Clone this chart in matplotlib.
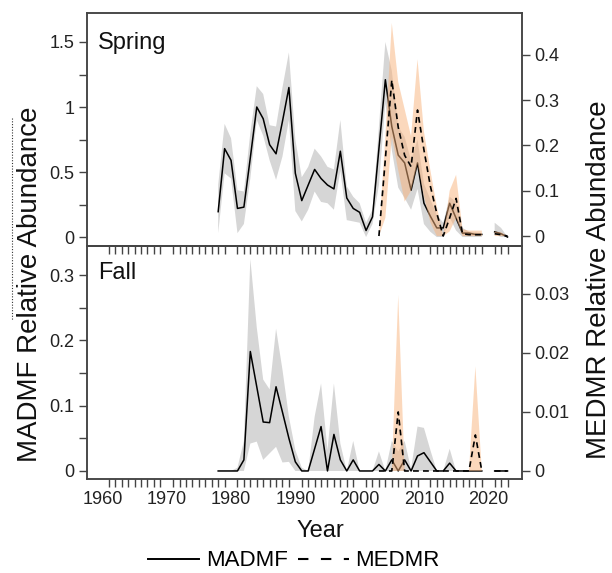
import numpy as np
import matplotlib
matplotlib.use("Agg")
import matplotlib.pyplot as plt
from matplotlib.lines import Line2D
from matplotlib.ticker import FixedLocator

plt.rcParams['font.family'] = ['Liberation Sans', 'DejaVu Sans']

nan = np.nan
years = np.arange(1978, 2024)
years_me = np.arange(2003, 2024)

# Spring MADMF (left axis)
spring_madmf = [0.195, 0.68, 0.59, 0.22, 0.23, 0.61, 1.00, 0.91, 0.71, 0.64,
                0.89, 1.15, 0.49, 0.28, 0.40, 0.52, 0.45, 0.40, 0.37, 0.66,
                0.30, 0.22, 0.19, 0.05, 0.155, 0.68, 1.21, 0.85, 0.63, 0.57,
                0.36, 0.57, 0.26, 0.16, 0.07, 0.07, 0.26, 0.145, 0.03, 0.03,
                0.02, 0.02, nan, 0.04, 0.025, 0.0]
spring_madmf_lo = [0.03, 0.49, 0.45, 0.03, 0.10, 0.45, 0.90, 0.78, 0.59, 0.44,
                   0.62, 0.90, 0.20, 0.12, 0.21, 0.35, 0.27, 0.26, 0.21, 0.51,
                   0.13, 0.12, 0.11, 0.0, 0.10, 0.40, 1.03, 0.67, 0.38, 0.30,
                   0.21, 0.37, 0.10, 0.04, 0.0, 0.0, 0.15, 0.05, 0.0, 0.0,
                   0.0, 0.0, nan, 0.02, 0.0, 0.0]
spring_madmf_hi = [0.40, 0.87, 0.76, 0.36, 0.35, 0.80, 1.16, 1.10, 0.86, 0.85,
                   1.15, 1.42, 0.75, 0.46, 0.54, 0.68, 0.62, 0.54, 0.52, 0.90,
                   0.39, 0.31, 0.26, 0.11, 0.21, 0.85, 1.50, 1.28, 0.85, 0.77,
                   0.59, 0.75, 0.41, 0.29, 0.17, 0.11, 0.31, 0.27, 0.07, 0.04,
                   0.035, 0.03, nan, 0.11, 0.07, 0.0]

# Spring MEDMR (right axis)
spring_medmr = [0.0, 0.17, 0.344, 0.24, 0.178, 0.153, 0.278, 0.19, 0.11, 0.05,
                0.0, 0.04, 0.083, 0.005, 0.003, 0.003, 0.003, nan, 0.005, 0.003, 0.0]
spring_medmr_lo = [0.0, 0.04, 0.22, 0.145, 0.076, 0.10, 0.16, 0.087, 0.03, 0.0,
                   0.0, 0.01, 0.04, 0.0, 0.0, 0.0, 0.0, nan, 0.0, 0.0, 0.0]
spring_medmr_hi = [0.0, 0.22, 0.47, 0.34, 0.28, 0.22, 0.39, 0.23, 0.145, 0.065,
                   0.0, 0.10, 0.135, 0.015, 0.012, 0.012, 0.012, nan, 0.01, 0.008, 0.0]

# Fall MADMF (left axis)
fall_madmf = [0.0, 0.0, 0.0, 0.0, 0.017, 0.183, 0.129, 0.075, 0.074, 0.129,
              0.09, 0.05, 0.014, 0.0, 0.0, 0.034, 0.068, 0.0, 0.056, 0.017,
              0.0, 0.017, 0.0, 0.0, 0.0, 0.01, 0.0, 0.017, 0.0, 0.017,
              0.0, 0.023, 0.028, 0.014, 0.0, 0.0, 0.012, 0.0, 0.0, 0.0,
              0.0, 0.0, nan, 0.0, 0.0, 0.0]
fall_madmf_lo = [0.0, 0.0, 0.0, 0.0, 0.0, 0.042, 0.045, 0.017, 0.027, 0.037,
                 0.013, 0.014, 0.0, 0.0, 0.0, 0.0, 0.0, 0.0, 0.0, 0.0,
                 0.0, 0.0, 0.0, 0.0, 0.0, 0.0, 0.0, 0.0, 0.0, 0.0,
                 0.0, 0.0, 0.0, 0.0, 0.0, 0.0, 0.0, 0.0, 0.0, 0.0,
                 0.0, 0.0, nan, 0.0, 0.0, 0.0]
fall_madmf_hi = [0.0, 0.0, 0.0, 0.005, 0.046, 0.325, 0.22, 0.14, 0.125, 0.218,
                 0.155, 0.083, 0.032, 0.005, 0.0, 0.083, 0.134, 0.032, 0.134, 0.042,
                 0.0, 0.046, 0.0, 0.0, 0.0, 0.03, 0.0, 0.046, 0.03, 0.046,
                 0.003, 0.068, 0.066, 0.032, 0.0, 0.0, 0.034, 0.0, 0.0, 0.0,
                 0.0, 0.0, nan, 0.0, 0.0, 0.0]

# Fall MEDMR (right axis)
fall_medmr = [0.0, 0.0, 0.0, 0.01, 0.0, 0.0, 0.0, 0.0, 0.0, 0.0,
              0.0, 0.0, 0.0, 0.0, 0.0, 0.0061, 0.0, nan, 0.0, 0.0, 0.0]
fall_medmr_lo = [0.0] * 17 + [nan, 0.0, 0.0, 0.0]
fall_medmr_hi = [0.0, 0.0, 0.0, 0.0298, 0.0, 0.0, 0.0, 0.0, 0.0, 0.0,
                 0.0, 0.0, 0.0, 0.0, 0.0, 0.0177, 0.0, nan, 0.0, 0.0, 0.0]

panel_labels = ["Spring", "Fall"]
decade_ticks = [1960, 1970, 1980, 1990, 2000, 2010, 2020]
year_ticks = np.arange(1960, 2024)

GREY = "#d6d6d6"
ORANGE = "#f9b27a"
SPINE = "#444444"
TXT = "#111111"

fig = plt.figure(figsize=(6.12, 5.73), dpi=100)
L, W = 87 / 612, 435 / 612
H = 233 / 573
ax1 = fig.add_axes([L, 1 - 246 / 573, W, H])
ax2 = fig.add_axes([L, 1 - 479 / 573, W, H])
ax2.patch.set_visible(False)
ax1r = ax1.twinx()
ax2r = ax2.twinx()

def style(ax, axr):
    for a in (ax, axr):
        for s in a.spines.values():
            s.set_color(SPINE)
            s.set_linewidth(1.1)
        a.tick_params(which='both', direction='out', length=6, width=1.0,
                      color=SPINE, labelsize=13, labelcolor="#222222", pad=3)
    ax.set_xlim(1957.6, 2025.25)
    ax.xaxis.set_major_locator(FixedLocator(decade_ticks))
    ax.xaxis.set_minor_locator(FixedLocator(year_ticks))
    ax.tick_params(axis='x', which='major', length=0)
    ax.tick_params(axis='x', which='minor', length=6)

# Spring
ax1.fill_between(years, spring_madmf_lo, spring_madmf_hi, color=GREY, lw=0)
ax1.plot(years, spring_madmf, color='black', lw=1.1)
ax1r.fill_between(years_me, spring_medmr_lo, spring_medmr_hi, color=ORANGE, alpha=0.5, lw=0)
ax1r.plot(years_me, spring_medmr, color='black', lw=1.2, ls=(0, (3.5, 2.5)))
ax1.set_ylim(-0.069, 1.723)
ax1r.set_ylim(-0.022, 0.492)
ax1.yaxis.set_major_locator(FixedLocator([0, 0.5, 1.0, 1.5]))
ax1.yaxis.set_minor_locator(FixedLocator([0.25, 0.75, 1.25]))
ax1.set_yticklabels(["0", "0.5", "1", "1.5"])
ax1r.yaxis.set_major_locator(FixedLocator([0, 0.1, 0.2, 0.3, 0.4]))
ax1r.set_yticklabels(["0", "0.1", "0.2", "0.3", "0.4"])
style(ax1, ax1r)
ax1.tick_params(axis='x', labelbottom=False)
ax1.text(0.026, 0.872, panel_labels[0], transform=ax1.transAxes, fontsize=17,
         va='center', ha='left', color=TXT)

# Fall
ax2.fill_between(years, fall_madmf_lo, fall_madmf_hi, color=GREY, lw=0)
ax2.plot(years, fall_madmf, color='black', lw=1.1)
ax2r.fill_between(years_me, fall_medmr_lo, fall_medmr_hi, color=ORANGE, alpha=0.5, lw=0)
ax2r.plot(years_me, fall_medmr, color='black', lw=1.2, ls=(0, (3.5, 2.5)))
ax2.set_ylim(-0.0123, 0.3446)
ax2r.set_ylim(-0.00136, 0.0381)
ax2.yaxis.set_major_locator(FixedLocator([0, 0.1, 0.2, 0.3]))
ax2.yaxis.set_minor_locator(FixedLocator([0.05, 0.15, 0.25]))
ax2.set_yticklabels(["0", "0.1", "0.2", "0.3"])
ax2r.yaxis.set_major_locator(FixedLocator([0, 0.01, 0.02, 0.03]))
ax2r.set_yticklabels(["0", "0.01", "0.02", "0.03"])
style(ax2, ax2r)
ax2.set_xticklabels([str(t) for t in decade_ticks])
ax2.tick_params(axis='x', which='major', pad=9, labelsize=13)
ax2.text(0.026, 0.885, panel_labels[1], transform=ax2.transAxes, fontsize=17,
         va='center', ha='left', color=TXT)

# Labels
fig.text(30 / 612, 1 - 284 / 573, "MADMF Relative Abundance", rotation=90,
         ha='center', va='center', fontsize=20, color=TXT)
fig.text(599 / 612, 1 - 280 / 573, "MEDMR Relative Abundance", rotation=90,
         ha='center', va='center', fontsize=20, color=TXT)
fig.text(320 / 612, 1 - 531 / 573, "Year", ha='center', va='center', fontsize=17,
         color=TXT)
fig.add_artist(Line2D([12 / 612, 12 / 612], [1 - 118 / 573, 1 - 320 / 573],
                      transform=fig.transFigure, color="#333333", lw=0.8, ls=(0, (1, 1.5))))

handles = [Line2D([], [], color='black', lw=1.4),
           Line2D([], [], color='black', lw=1.5, ls=(0, (5, 6)))]
fig.legend(handles, ["MADMF", "MEDMR"], loc='center', bbox_to_anchor=(294 / 612, 1 - 561 / 573),
           ncol=2, frameon=False, fontsize=16, handlelength=2.3, handletextpad=0.3,
           columnspacing=0.45, borderpad=0)

fig.savefig("out.png", dpi=100)
